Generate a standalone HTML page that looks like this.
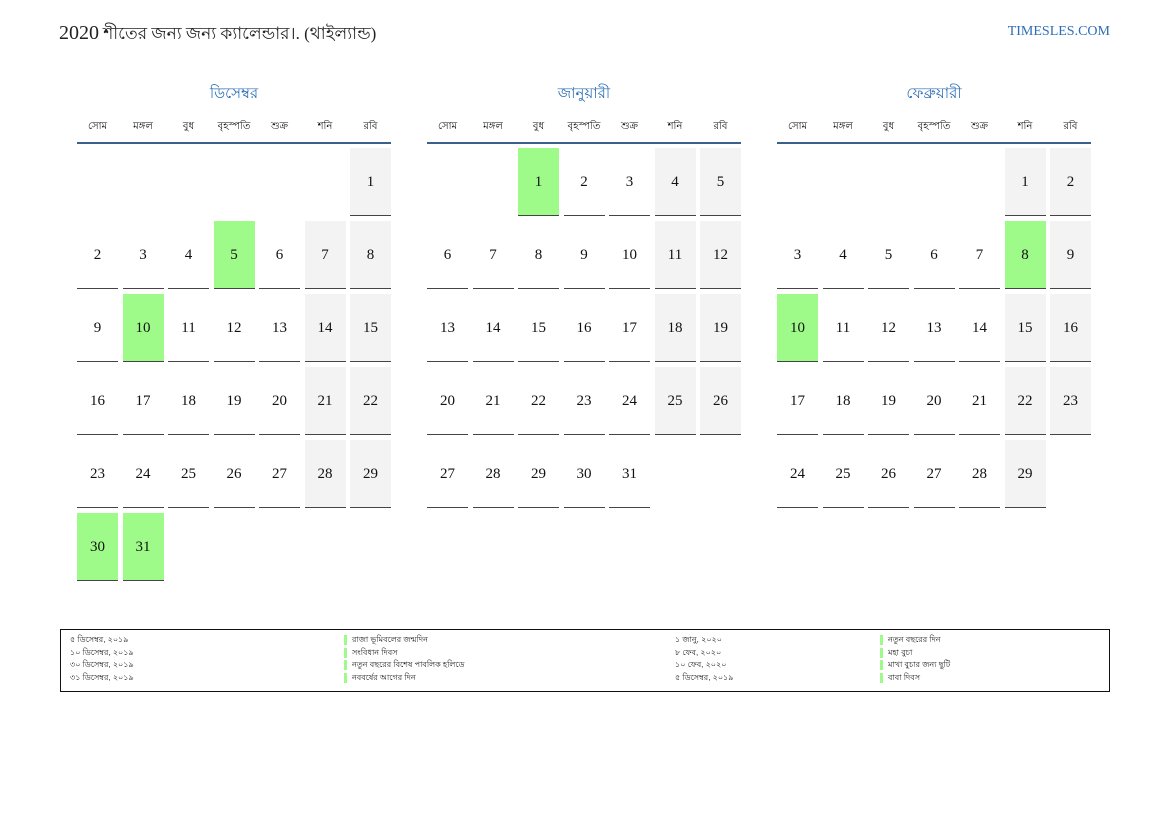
<!DOCTYPE html>
<html><head><meta charset="utf-8"><style>
body{margin:0;width:1169px;height:827px;background:#fff;position:relative;font-family:"Liberation Serif","Noto Serif CJK SC",serif;overflow:hidden}
.t{position:absolute;left:59px;top:21px;font-size:17px;color:#222}
.t b{font-weight:normal;font-size:20px}
.site{position:absolute;right:59px;top:24px;font-size:14px;color:#2a6db5}
.m{position:absolute;top:84px;width:314px}
.mt{text-align:center;font-size:15px;color:#2a6db5;height:20px;line-height:20px;font-family:"Liberation Sans","Noto Sans CJK SC",sans-serif}
.hd{display:grid;grid-template-columns:repeat(7,41px);column-gap:4.5px;margin-top:15px;height:23px;border-bottom:2px solid #3d5f8c;font-size:10px;text-align:center;line-height:16px;font-family:"Liberation Sans","Noto Sans CJK SC",sans-serif;color:#111}
.g{display:grid;grid-template-columns:repeat(7,41px);grid-auto-rows:68px;column-gap:4.5px;row-gap:5px;margin-top:4px}
.g div{font-size:15px;text-align:center;line-height:68px;color:#111;box-sizing:border-box;border-bottom:1.5px solid #444}
.g div.e{border:none}
.g .w{background:#f3f3f3}
.g .h{background:#9efb89}
.lg{position:absolute;left:60px;top:629px;width:1050px;height:63px;box-sizing:border-box;border:1.5px solid #111;font-family:"Liberation Sans","Noto Sans CJK SC",sans-serif;font-size:8px;color:#222}
.lg span{position:absolute;line-height:12.7px}
.b{border-left:3px solid #9efb89;padding-left:5px;height:10px;line-height:10px;margin:0 0 2.7px 0}
</style></head><body>
<div class="t"><b>2020</b> শীতের জন্য জন্য ক্যালেন্ডার।. (থাইল্যান্ড)</div>
<div class="site">TIMESLES.COM</div>

<div class="m" style="left:77px"><div class="mt">ডিসেম্বর</div>
<div class="hd"><span>সোম</span><span>মঙ্গল</span><span>বুধ</span><span>বৃহস্পতি</span><span>শুক্র</span><span>শনি</span><span>রবি</span></div>
<div class="g">
<div class="e"></div><div class="e"></div><div class="e"></div><div class="e"></div><div class="e"></div><div class="e"></div><div class="w">1</div>
<div>2</div><div>3</div><div>4</div><div class="h">5</div><div>6</div><div class="w">7</div><div class="w">8</div>
<div>9</div><div class="h">10</div><div>11</div><div>12</div><div>13</div><div class="w">14</div><div class="w">15</div>
<div>16</div><div>17</div><div>18</div><div>19</div><div>20</div><div class="w">21</div><div class="w">22</div>
<div>23</div><div>24</div><div>25</div><div>26</div><div>27</div><div class="w">28</div><div class="w">29</div>
<div class="h">30</div><div class="h">31</div>
</div></div>

<div class="m" style="left:427px"><div class="mt">জানুয়ারী</div>
<div class="hd"><span>সোম</span><span>মঙ্গল</span><span>বুধ</span><span>বৃহস্পতি</span><span>শুক্র</span><span>শনি</span><span>রবি</span></div>
<div class="g">
<div class="e"></div><div class="e"></div><div class="h">1</div><div>2</div><div>3</div><div class="w">4</div><div class="w">5</div>
<div>6</div><div>7</div><div>8</div><div>9</div><div>10</div><div class="w">11</div><div class="w">12</div>
<div>13</div><div>14</div><div>15</div><div>16</div><div>17</div><div class="w">18</div><div class="w">19</div>
<div>20</div><div>21</div><div>22</div><div>23</div><div>24</div><div class="w">25</div><div class="w">26</div>
<div>27</div><div>28</div><div>29</div><div>30</div><div>31</div>
</div></div>

<div class="m" style="left:777px"><div class="mt">ফেব্রুয়ারী</div>
<div class="hd"><span>সোম</span><span>মঙ্গল</span><span>বুধ</span><span>বৃহস্পতি</span><span>শুক্র</span><span>শনি</span><span>রবি</span></div>
<div class="g">
<div class="e"></div><div class="e"></div><div class="e"></div><div class="e"></div><div class="e"></div><div class="w">1</div><div class="w">2</div>
<div>3</div><div>4</div><div>5</div><div>6</div><div>7</div><div class="h">8</div><div class="w">9</div>
<div class="h">10</div><div>11</div><div>12</div><div>13</div><div>14</div><div class="w">15</div><div class="w">16</div>
<div>17</div><div>18</div><div>19</div><div>20</div><div>21</div><div class="w">22</div><div class="w">23</div>
<div>24</div><div>25</div><div>26</div><div>27</div><div>28</div><div class="w">29</div>
</div></div>

<div class="lg">
<span style="left:9px;top:4px">৫ ডিসেম্বর, ২০১৯<br>১০ ডিসেম্বর, ২০১৯<br>৩০ ডিসেম্বর, ২০১৯<br>৩১ ডিসেম্বর, ২০১৯</span>
<span style="left:283px;top:5px"><div class="b">রাজা ভূমিবলের জন্মদিন</div><div class="b">সংবিধান দিবস</div><div class="b">নতুন বছরের বিশেষ পাবলিক হলিডে</div><div class="b">নববর্ষের আগের দিন</div></span>
<span style="left:614px;top:4px">১ জানু, ২০২০<br>৮ ফেব, ২০২০<br>১০ ফেব, ২০২০<br>৫ ডিসেম্বর, ২০১৯</span>
<span style="left:819px;top:5px"><div class="b">নতুন বছরের দিন</div><div class="b">মহা বুচা</div><div class="b">মাখা বুচার জন্য ছুটি</div><div class="b">বাবা দিবস</div></span>
</div>
</body></html>
